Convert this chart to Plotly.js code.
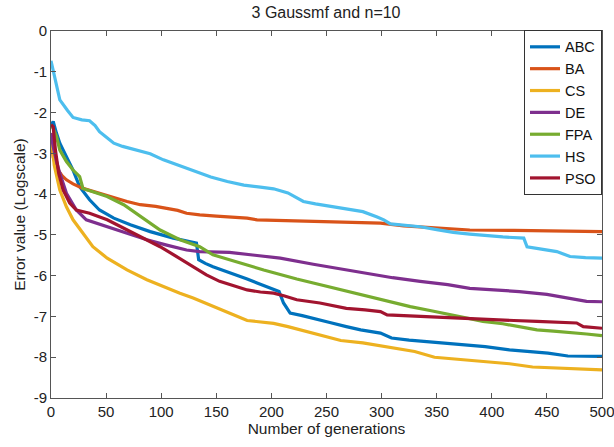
<!DOCTYPE html>
<html>
<head>
<meta charset="utf-8">
<script src="https://cdn.plot.ly/plotly-3.0.1.min.js"></script>
<style>html,body{margin:0;padding:0;background:#fff;}#chart{width:614px;height:447px;}</style>
</head>
<body>
<div id="chart"></div>
<script>
const seriesNames = ["ABC","BA","CS","DE","FPA","HS","PSO"];
const seriesColors = ["#0072BD","#D95319","#EDB120","#7E2F8E","#77AC30","#4DBEEE","#A2142F"];

const abcX = [0,2,5,8,14,20,26,35,44,57,72,90,111,122,132,134,140,147,158,169,178,187,195,202,207,211,217,228,238,253,268,281,299,309,325,345,370,394,416,435,451,469,485,500];
const abcY = [-2.3,-2.22,-2.51,-2.75,-3.08,-3.41,-3.82,-4.14,-4.39,-4.59,-4.75,-4.92,-5.08,-5.15,-5.2,-5.61,-5.7,-5.78,-5.88,-5.98,-6.08,-6.18,-6.27,-6.35,-6.39,-6.67,-6.92,-6.98,-7.04,-7.15,-7.25,-7.33,-7.41,-7.53,-7.58,-7.63,-7.69,-7.74,-7.82,-7.86,-7.9,-7.97,-7.98,-7.98];

const baX = [0,2,5,10,14,20,29,40,51,60,69,81,95,105,115,123,135,150,165,178,187,210,238,270,299,320,350,380,420,447,470,500];
const baY = [-2.6,-3.1,-3.35,-3.55,-3.65,-3.75,-3.86,-3.95,-4.02,-4.1,-4.18,-4.26,-4.3,-4.35,-4.4,-4.47,-4.51,-4.54,-4.57,-4.59,-4.63,-4.65,-4.67,-4.69,-4.71,-4.78,-4.84,-4.88,-4.89,-4.9,-4.91,-4.92];

const csX = [0,3,8,14,20,29,38,51,69,87,105,117,129,147,165,178,190,202,215,231,245,263,283,302,315,330,348,365,380,400,416,437,455,469,485,500];
const csY = [-2.5,-3.3,-3.9,-4.31,-4.63,-4.96,-5.29,-5.57,-5.86,-6.1,-6.31,-6.43,-6.55,-6.76,-6.95,-7.1,-7.14,-7.17,-7.25,-7.37,-7.47,-7.59,-7.65,-7.74,-7.8,-7.86,-8.0,-8.04,-8.08,-8.12,-8.16,-8.24,-8.26,-8.28,-8.29,-8.31];

const deX = [0,2,5,8,14,23,32,51,69,87,105,123,135,162,185,208,238,260,274,291,310,335,360,380,400,425,450,471,486,500];
const deY = [-2.5,-2.84,-3.2,-3.49,-3.98,-4.39,-4.63,-4.8,-4.96,-5.12,-5.25,-5.37,-5.41,-5.43,-5.5,-5.57,-5.72,-5.82,-5.9,-5.98,-6.05,-6.14,-6.22,-6.31,-6.34,-6.39,-6.46,-6.55,-6.63,-6.64];

const fpaX = [0,2,5,8,14,20,26,29,38,51,66,81,99,117,135,147,162,178,193,208,223,238,253,268,283,299,326,345,362,380,392,410,425,441,456,471,486,500];
const fpaY = [-2.3,-2.39,-2.59,-2.92,-3.2,-3.41,-3.57,-3.86,-3.94,-4.06,-4.26,-4.55,-4.88,-5.12,-5.29,-5.49,-5.62,-5.74,-5.86,-5.98,-6.08,-6.18,-6.28,-6.39,-6.49,-6.59,-6.76,-6.86,-6.96,-7.05,-7.12,-7.18,-7.25,-7.33,-7.36,-7.39,-7.43,-7.47];

const hsX = [0,3,8,15,20,28,35,40,44,50,57,65,75,90,102,110,120,131,145,160,175,190,202,215,229,240,253,270,283,296,302,308,320,335,350,365,380,395,410,429,432,445,459,471,485,500];
const hsY = [-0.73,-1.1,-1.69,-1.95,-2.12,-2.18,-2.2,-2.32,-2.47,-2.6,-2.75,-2.83,-2.9,-3.01,-3.16,-3.24,-3.32,-3.45,-3.58,-3.69,-3.78,-3.83,-3.87,-3.97,-4.18,-4.24,-4.3,-4.37,-4.43,-4.56,-4.63,-4.73,-4.76,-4.8,-4.87,-4.94,-4.98,-5.02,-5.05,-5.08,-5.29,-5.35,-5.41,-5.53,-5.56,-5.57];

const psoX = [0,2,4,7,11,17,23,35,51,66,81,99,117,132,141,153,165,178,190,202,212,223,244,268,285,299,305,335,365,395,420,441,460,477,483,500];
const psoY = [-2.3,-2.35,-2.92,-3.49,-3.9,-4.22,-4.39,-4.47,-4.63,-4.84,-5.04,-5.29,-5.58,-5.82,-5.98,-6.14,-6.25,-6.35,-6.4,-6.43,-6.5,-6.59,-6.67,-6.8,-6.84,-6.88,-6.96,-7.0,-7.04,-7.08,-7.1,-7.12,-7.14,-7.16,-7.25,-7.29];

const xTickVals = [0,50,100,150,200,250,300,350,400,450,500];
const yTickVals = [0,-1,-2,-3,-4,-5,-6,-7,-8,-9];
const yTickText = ["0","-1","-2","-3","-4","-5","-6","-7","-8","-9"];

const xs = [abcX,baX,csX,deX,fpaX,hsX,psoX];
const ys = [abcY,baY,csY,deY,fpaY,hsY,psoY];

const traces = seriesNames.map((n,i)=>({
  x: xs[i], y: ys[i], name: n, type: 'scatter', mode: 'lines',
  line: {color: seriesColors[i], width: 3.2}
}));

const fontFam = 'Liberation Sans, Arial, sans-serif';
const axisCommon = {
  showgrid: false, zeroline: false, showline: true, linecolor: '#555', linewidth: 1,
  mirror: 'ticks', ticks: 'inside', ticklen: 5, tickcolor: '#555',
  ticklabeloverflow: 'allow',
  tickfont: {family: fontFam, size: 15, color: '#222'}
};

const layout = {
  width: 614, height: 447,
  margin: {l: 51, r: 12, t: 31, b: 49},
  paper_bgcolor: '#fff', plot_bgcolor: '#fff',
  font: {family: fontFam, color: '#222'},
  title: {text: '3 Gaussmf and n=10', font: {family: fontFam, size: 16, color: '#222'}, x: 0.531, xanchor: 'center', y: 0.985, yanchor: 'top'},
  xaxis: Object.assign({}, axisCommon, {
    range: [0,500], tickvals: xTickVals, ticktext: xTickVals.map(String), automargin: false,
    title: {text: 'Number of generations', font: {family: fontFam, size: 15.5, color: '#222'}, standoff: 2}
  }),
  yaxis: Object.assign({}, axisCommon, {
    range: [-9,0], tickvals: yTickVals, ticktext: yTickText,
    title: {text: 'Error value (Logscale)', font: {family: fontFam, size: 15.5, color: '#222'}, standoff: 4}
  }),
  legend: {
    x: 1, xanchor: 'right', y: 1.003, yanchor: 'top',
    bgcolor: '#fff', bordercolor: '#333', borderwidth: 1,
    font: {family: fontFam, size: 14.5, color: '#111'},
    tracegroupgap: 0
  },
  showlegend: true
};

Plotly.newPlot('chart', traces, layout, {displayModeBar: false, staticPlot: true});
</script>
</body>
</html>
